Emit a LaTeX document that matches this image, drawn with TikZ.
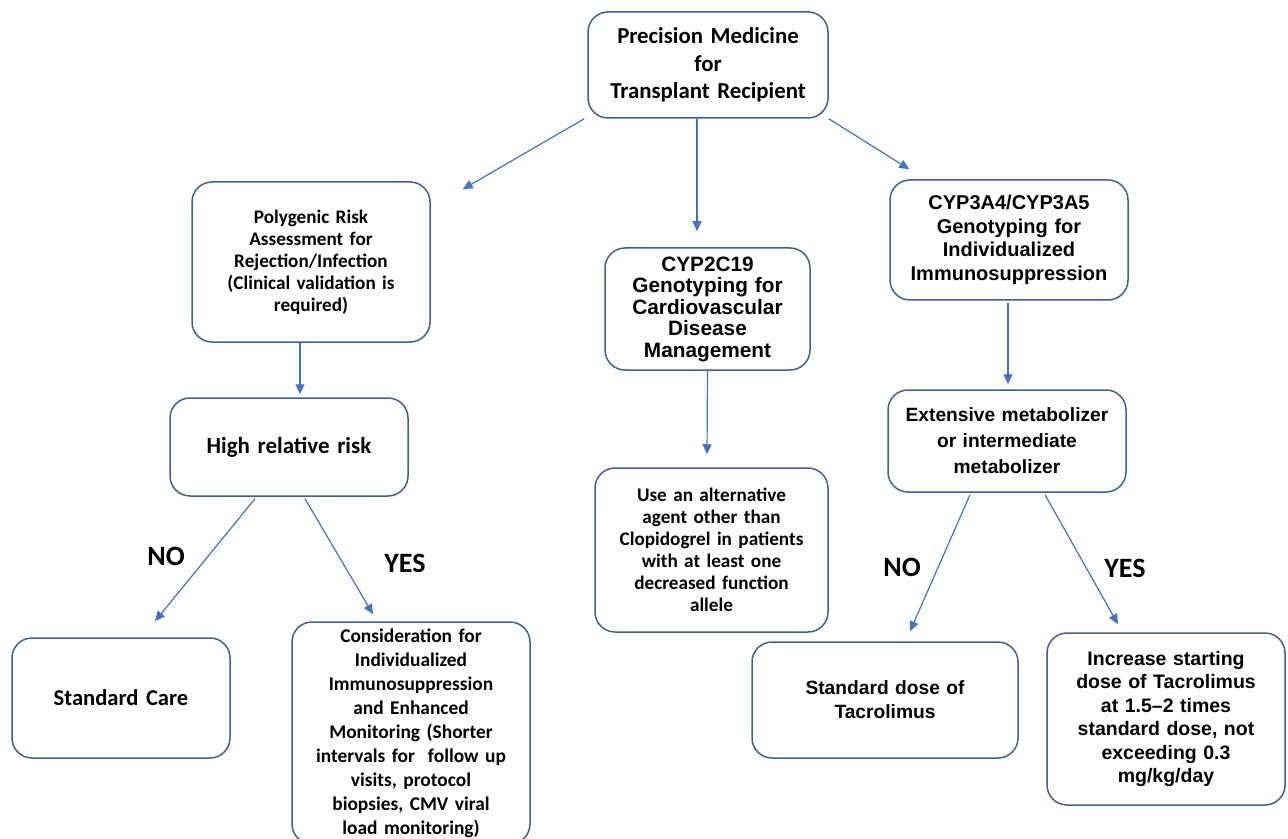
\documentclass[tikz,border=0pt]{standalone}
\usepackage{fontspec}
\setmainfont{Carlito}
\newfontfamily\arl{Liberation Sans}
\usetikzlibrary{arrows.meta}
\definecolor{boxc}{HTML}{41618F}
\definecolor{arrc}{HTML}{4472C4}
\tikzset{
  bx/.style 2 args={draw=boxc, line width=0.75pt, rounded corners=10pt, align=center, inner sep=2pt, fill=white,
    minimum width=#1*0.5pt, minimum height=#2*0.5pt, text width=#1*0.5pt-6pt},
  arr/.style={draw=arrc, line width=0.6pt, -{Triangle[length=5pt,width=4.5pt]}},
  lbl/.style={font=\bfseries\fontsize{14}{16}\selectfont}
}
\begin{document}
\begin{tikzpicture}[x=0.5pt,y=-0.5pt]
\useasboundingbox (0,0) rectangle (1288,839);
\node[bx={240}{106}, font=\bfseries\fontsize{11.4}{13.75}\selectfont] (top) at (708,65)
  {Precision Medicine\\for\\Transplant Recipient};
\node[bx={238}{160}, font=\bfseries\fontsize{9.6}{11}\selectfont] (poly) at (311,262)
  {Polygenic Risk\\Assessment for\\Rejection/Infection\\(Clinical validation is\\required)};
\node[bx={205}{122}, font=\arl\bfseries\fontsize{10.4}{10.75}\selectfont] (cyp2) at (707.5,309)
  {CYP2C19\\Genotyping for\\Cardiovascular\\Disease\\Management};
\node[bx={238}{120}, font=\arl\bfseries\fontsize{10}{11.75}\selectfont] (cyp3) at (1009,240)
  {CYP3A4/CYP3A5\\Genotyping for\\Individualized\\Immunosuppression};
\node[bx={238}{98}, font=\bfseries\fontsize{11.5}{13}\selectfont] (high) at (289,447)
  {High relative risk};
\node[bx={233}{164}, font=\bfseries\fontsize{9.6}{11}\selectfont] (alt) at (711.5,550)
  {Use an alternative\\agent other than\\Clopidogrel in patients\\with at least one\\decreased function\\allele};
\node[bx={238}{102}, font=\arl\bfseries\fontsize{9.6}{13}\selectfont] (ext) at (1007,441)
  {Extensive metabolizer\\or intermediate\\metabolizer};
\node[bx={218}{120}, font=\bfseries\fontsize{11.3}{13}\selectfont] (std) at (121,698)
  {Standard Care};
\node[bx={238}{222}, font=\bfseries\fontsize{9.7}{12}\selectfont] (cons) at (411,733)
  {Consideration for\\Individualized\\Immunosuppression\\and Enhanced\\Monitoring (Shorter\\intervals for\ \ follow up\\visits, protocol\\biopsies, CMV viral\\load monitoring)};
\node[bx={266}{116}, font=\arl\bfseries\fontsize{9.6}{12}\selectfont] (dose) at (885,700)
  {Standard dose of\\Tacrolimus};
\node[bx={238}{172}, font=\arl\bfseries\fontsize{9.75}{11.75}\selectfont] (inc) at (1166,719)
  {Increase starting\\dose of Tacrolimus\\at 1.5–2 times\\standard dose, not\\exceeding 0.3\\mg/kg/day};
\node[lbl] (no1) at (166,556) {NO};
\node[lbl] (yes1) at (405,563) {YES};
\node[lbl] (no2) at (902,567) {NO};
\node[lbl] (yes2) at (1125,568) {YES};
\draw[arr] ([xshift=-1.5pt]top.south west) -- ([xshift=16pt,yshift=-4pt]poly.north east);
\draw[arr] ([xshift=-5.5pt]top.south) -- ([xshift=-5.25pt,yshift=8pt]cyp2.north);
\draw[arr] (top.south east) -- ([xshift=10pt,yshift=5pt]cyp3.north west);
\draw[arr] ([xshift=-5.5pt]poly.south) -- ([xshift=5.5pt,yshift=1.5pt]high.north);
\draw[arr] (cyp2.south) -- ([xshift=-2.25pt,yshift=6.5pt]alt.north);
\draw[arr] ([xshift=-0.5pt,yshift=-1pt]cyp3.south) -- ([xshift=0.5pt,yshift=2.5pt]ext.north);
\draw[arr] ([xshift=-17pt,yshift=-1pt]high.south) -- ([xshift=17pt,yshift=8pt]std.north);
\draw[arr] ([xshift=8pt,yshift=-1pt]high.south) -- ([xshift=-19pt,yshift=3.5pt]cons.north);
\draw[arr] ([xshift=-18.5pt,yshift=-1pt]ext.south) -- ([xshift=12.5pt,yshift=5pt]dose.north);
\draw[arr] ([xshift=19pt,yshift=-1pt]ext.south) -- ([xshift=-24pt,yshift=4pt]inc.north);
\end{tikzpicture}
\end{document}
